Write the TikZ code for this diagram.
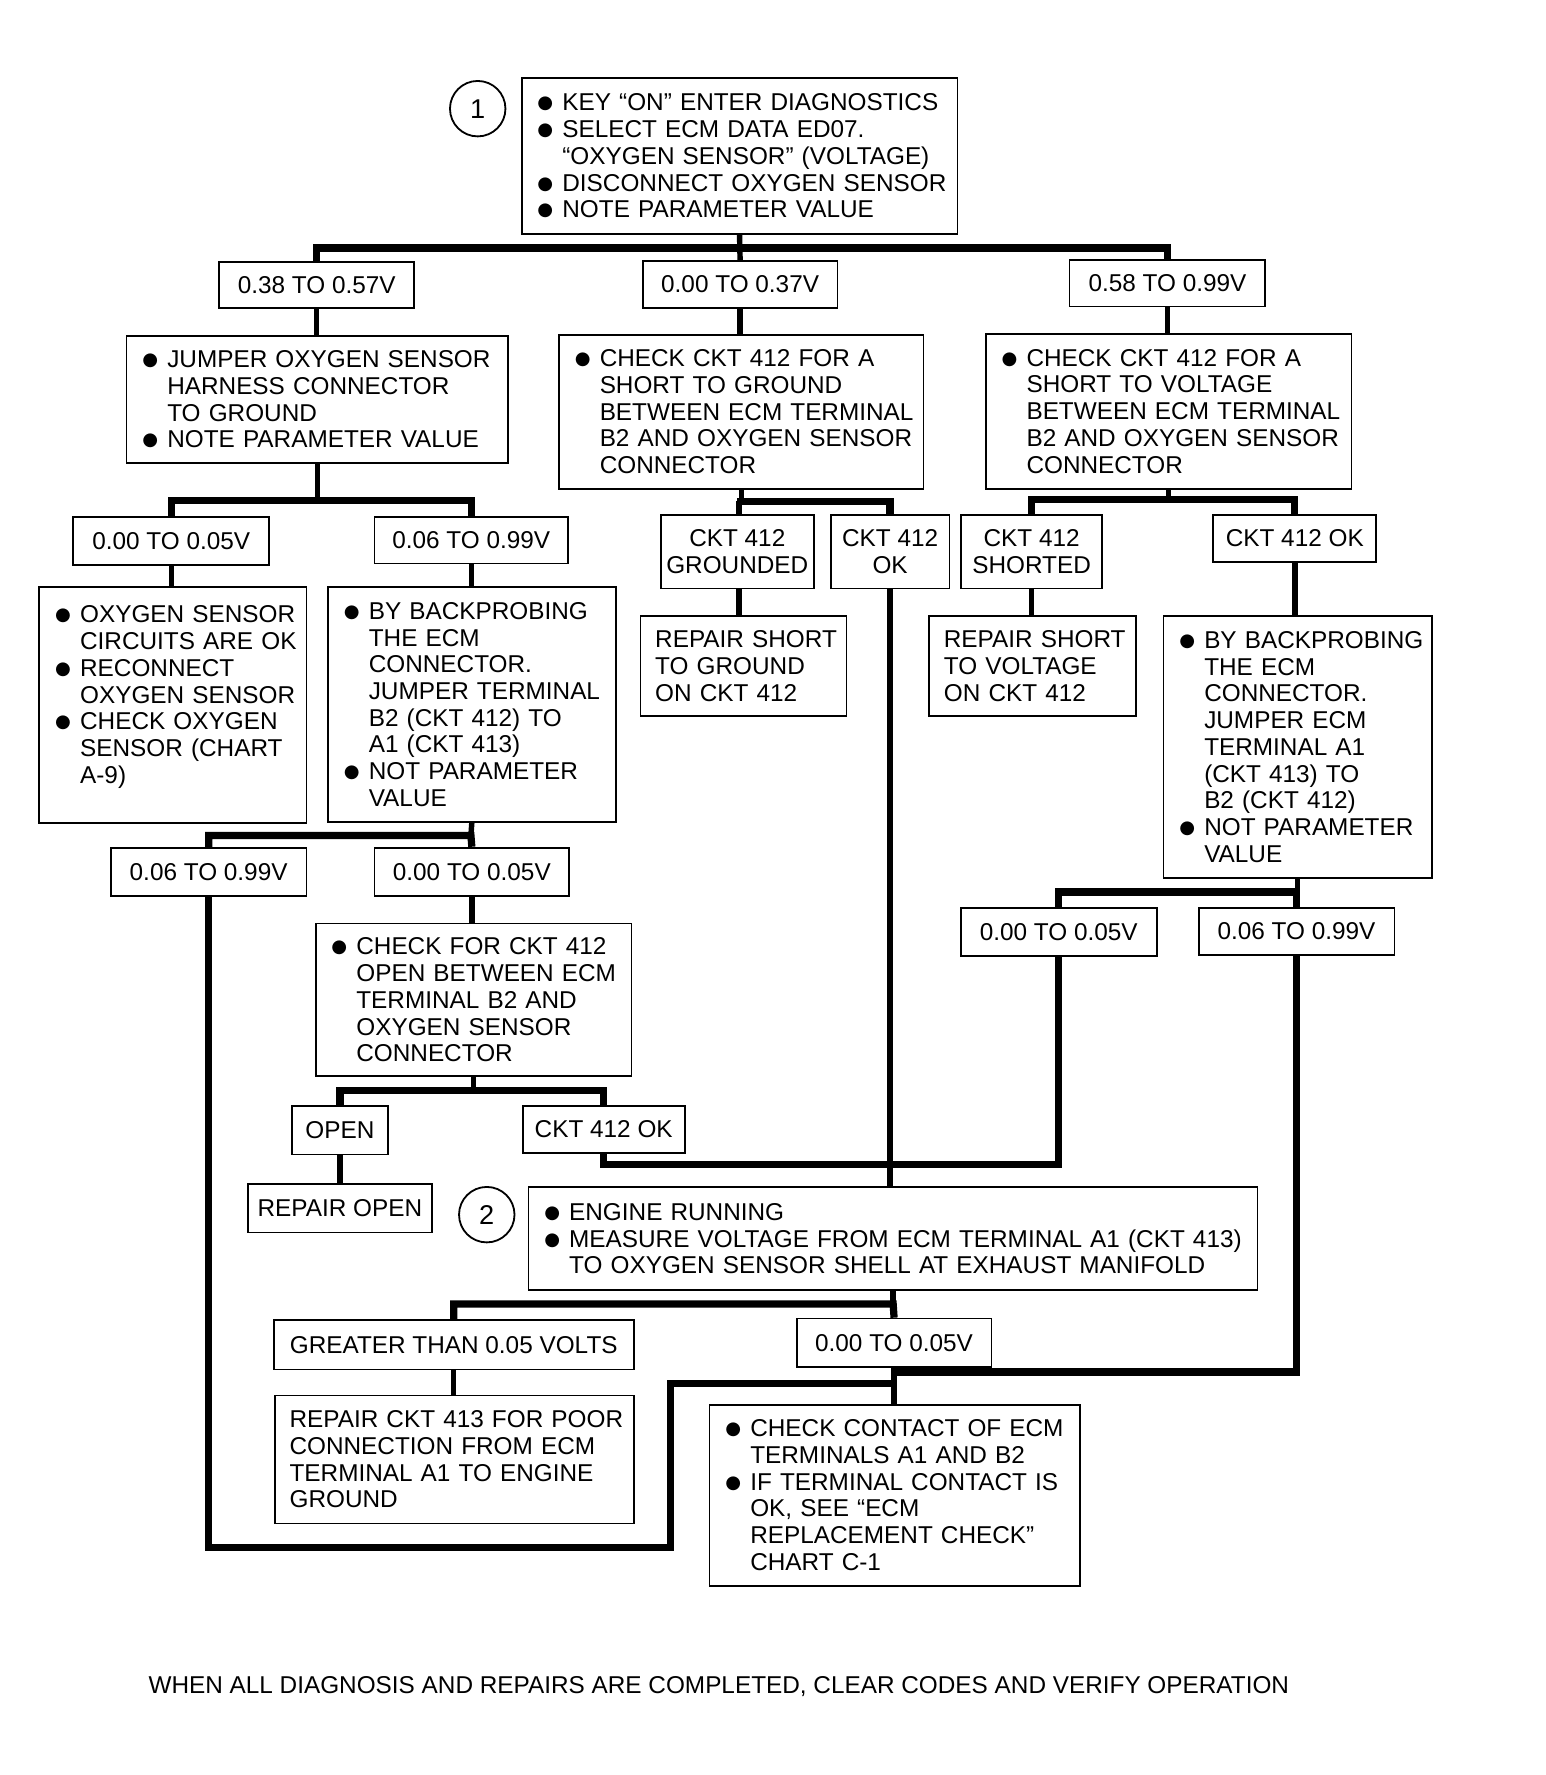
\documentclass[tikz,border=0pt]{standalone}
\usepackage{fontspec}
\setmainfont{Liberation Sans}
\newfontfamily\symfont{DejaVu Sans}

\newcommand{\dotmark}{\raisebox{0.9pt}{\symfont\fontsize{8}{8}\selectfont ●}}
\newcommand{\bul}{\hspace*{7pt}\makebox[11pt][l]{\dotmark}}
\newcommand{\ind}{\hspace*{18pt}}
\newcommand{\pre}{\hspace*{6.5pt}}

\tikzset{
	box/.style={draw, line width=0.8pt, anchor=north west, inner sep=0pt, font=\fontsize{10.75}{11.8}\selectfont},
	valbox/.style={box, align=center},
	listbox/.style={box, align=left},
	num/.style={draw, circle, line width=0.8pt, minimum size=24.5pt, inner sep=0pt, font=\fontsize{12}{12}\selectfont},
	wire/.style={line width=2.4pt},
	bus/.style={line width=3.2pt, line join=miter},
}

\begin{document}
\begin{tikzpicture}[yscale=-1, x=0.5pt, y=0.5pt]

		\useasboundingbox (0, 0) rectangle (1365, 1568);

		% first test
		\node [num]									(c1)	at (422, 96) {1};
		\node [listbox, text width=192.5pt, minimum height=69pt]	(top)	at (460, 68)
			{\bul KEY “ON” ENTER DIAGNOSTICS\\
			 \bul SELECT ECM DATA ED07.\\
			 \ind “OXYGEN SENSOR” (VOLTAGE)\\
			 \bul DISCONNECT OXYGEN SENSOR\\
			 \bul NOTE PARAMETER VALUE};

		\node [valbox, minimum width=86pt, minimum height=20pt]		(v1)	at (193, 231) {0.38 TO 0.57V};
		\node [valbox, minimum width=86pt, minimum height=20.5pt]	(v2)	at (567, 230) {0.00 TO 0.37V};
		\node [valbox, minimum width=86.5pt, minimum height=20.5pt]	(v3)	at (944, 229) {0.58 TO 0.99V};

		\node [listbox, text width=168.5pt, minimum height=56pt]	(jmp)	at (111, 296)
			{\bul JUMPER OXYGEN SENSOR\\
			 \ind HARNESS CONNECTOR\\
			 \ind TO GROUND\\
			 \bul NOTE PARAMETER VALUE};
		\node [listbox, text width=161pt, minimum height=68pt]		(gnd)	at (493, 295)
			{\bul CHECK CKT 412 FOR A\\
			 \ind SHORT TO GROUND\\
			 \ind BETWEEN ECM TERMINAL\\
			 \ind B2 AND OXYGEN SENSOR\\
			 \ind CONNECTOR};
		\node [listbox, text width=161.5pt, minimum height=68.5pt]	(vol)	at (870, 294)
			{\bul CHECK CKT 412 FOR A\\
			 \ind SHORT TO VOLTAGE\\
			 \ind BETWEEN ECM TERMINAL\\
			 \ind B2 AND OXYGEN SENSOR\\
			 \ind CONNECTOR};

		% left branch
		\node [valbox, minimum width=86.5pt, minimum height=21pt]	(a1)	at (64, 456) {0.00 TO 0.05V};
		\node [valbox, minimum width=85.5pt, minimum height=20.5pt]	(a2)	at (330, 456) {0.06 TO 0.99V};
		\node [listbox, text width=118pt, minimum height=104pt, text depth=80pt]	(sok)	at (34, 518)
			{\bul OXYGEN SENSOR\\
			 \ind CIRCUITS ARE OK\\
			 \bul RECONNECT\\
			 \ind OXYGEN SENSOR\\
			 \bul CHECK OXYGEN\\
			 \ind SENSOR (CHART\\
			 \ind A-9)};
		\node [listbox, text width=127pt, minimum height=103.5pt]	(prb)	at (289, 518)
			{\bul BY BACKPROBING\\
			 \ind THE ECM\\
			 \ind CONNECTOR.\\
			 \ind JUMPER TERMINAL\\
			 \ind B2 (CKT 412) TO\\
			 \ind A1 (CKT 413)\\
			 \bul NOT PARAMETER\\
			 \ind VALUE};

		% middle and right branch
		\node [valbox, minimum width=67.5pt, minimum height=32.5pt]	(g1)	at (583, 454) {CKT 412\\GROUNDED};
		\node [valbox, minimum width=52.5pt, minimum height=32.5pt]	(g2)	at (733, 454) {CKT 412\\OK};
		\node [valbox, minimum width=62.5pt, minimum height=32.5pt]	(s1)	at (848, 454) {CKT 412\\SHORTED};
		\node [valbox, minimum width=72pt, minimum height=21pt]		(s2)	at (1071, 454) {CKT 412 OK};
		\node [listbox, text width=91pt, minimum height=44.5pt]		(rg)	at (565, 543)
			{\pre REPAIR SHORT\\
			 \pre TO GROUND\\
			 \pre ON CKT 412};
		\node [listbox, text width=91.5pt, minimum height=44.5pt]	(rv)	at (820, 543)
			{\pre REPAIR SHORT\\
			 \pre TO VOLTAGE\\
			 \pre ON CKT 412};
		\node [listbox, text width=118.5pt, minimum height=116pt]	(prb2)	at (1027, 543)
			{\bul BY BACKPROBING\\
			 \ind THE ECM\\
			 \ind CONNECTOR.\\
			 \ind JUMPER ECM\\
			 \ind TERMINAL A1\\
			 \ind (CKT 413) TO\\
			 \ind B2 (CKT 412)\\
			 \bul NOT PARAMETER\\
			 \ind VALUE};

		\node [valbox, minimum width=86.5pt, minimum height=21.5pt]	(e1)	at (97, 748) {0.06 TO 0.99V};
		\node [valbox, minimum width=86pt, minimum height=21.5pt]	(e2)	at (330, 748) {0.00 TO 0.05V};
		\node [listbox, text width=139.5pt, minimum height=67.5pt]	(opn)	at (278, 815)
			{\bul CHECK FOR CKT 412\\
			 \ind OPEN BETWEEN ECM\\
			 \ind TERMINAL B2 AND\\
			 \ind OXYGEN SENSOR\\
			 \ind CONNECTOR};
		\node [valbox, minimum width=42.5pt, minimum height=21.5pt]	(o1)	at (257, 976) {OPEN};
		\node [valbox, minimum width=71.5pt, minimum height=21pt]	(o2)	at (461, 976) {CKT 412 OK};
		\node [valbox, minimum width=81.5pt, minimum height=21.5pt]	(ro)	at (218, 1045) {REPAIR OPEN};

		\node [valbox, minimum width=86.5pt, minimum height=21.5pt]	(f1)	at (848, 801) {0.00 TO 0.05V};
		\node [valbox, minimum width=86.5pt, minimum height=21pt]	(f2)	at (1058, 801) {0.06 TO 0.99V};

		% second test
		\node [num]									(c2)	at (430, 1073) {2};
		\node [listbox, text width=322pt, minimum height=45.5pt]	(eng)	at (466, 1048)
			{\bul ENGINE RUNNING\\
			 \bul MEASURE VOLTAGE FROM ECM TERMINAL A1 (CKT 413)\\
			 \ind TO OXYGEN SENSOR SHELL AT EXHAUST MANIFOLD};
		\node [valbox, minimum width=159pt, minimum height=22pt]	(m1)	at (241, 1165) {GREATER THAN 0.05 VOLTS};
		\node [valbox, minimum width=86pt, minimum height=21.5pt]	(m2)	at (703, 1164) {0.00 TO 0.05V};
		\node [listbox, text width=158.5pt, minimum height=56.5pt]	(rep)	at (242, 1232)
			{\pre REPAIR CKT 413 FOR POOR\\
			 \pre CONNECTION FROM ECM\\
			 \pre TERMINAL A1 TO ENGINE\\
			 \pre GROUND};
		\node [listbox, text width=163.5pt, minimum height=80pt]	(ecm)	at (626, 1240)
			{\bul CHECK CONTACT OF ECM\\
			 \ind TERMINALS A1 AND B2\\
			 \bul IF TERMINAL CONTACT IS\\
			 \ind OK, SEE “ECM\\
			 \ind REPLACEMENT CHECK”\\
			 \ind CHART C-1};

		\node [font=\fontsize{10.75}{12}\selectfont]	(note)	at (635, 1490)
			{WHEN ALL DIAGNOSIS AND REPAIRS ARE COMPLETED, CLEAR CODES AND VERIFY OPERATION};

		% bus levels
		\coordinate (b0) at (652, 219);
		\coordinate (bA) at (280, 442);
		\coordinate (bB) at (653, 443);
		\coordinate (bC) at (1032, 441);
		\coordinate (bE) at (416, 738);
		\coordinate (bF) at (1143, 788);
		\coordinate (bG) at (416, 963);
		\coordinate (bK) at (788, 1029);
		\coordinate (bM) at (789, 1152);
		\coordinate (bend) at (592, 1367);
		\coordinate (jL) at (789, 1222);
		\coordinate (jR) at (789, 1212);

		% connectors
		\draw [wire]	(top.south) to (v2.north);
		\draw [bus]		(v1.north) |- (b0) -| (v3.north);
		\draw [wire]	(v1.south) to (v1.south |- jmp.north);
		\draw [wire]	(v2.south) to (v2.south |- gnd.north);
		\draw [wire]	(v3.south) to (v3.south |- vol.north);

		\draw [wire]	(jmp.south) to (jmp.south |- bA);
		\draw [bus]		(a1.north) |- (bA) -| (a2.north);
		\draw [wire]	(a1.south) to (a1.south |- sok.north);
		\draw [wire]	(a2.south) to (a2.south |- prb.north);

		\draw [wire]	(gnd.south) to (gnd.south |- bB);
		\draw [bus]		(bB -| g1.north) to (bB) -| (g2.north);
		\draw [wire]	(bB) to (bB |- g1.north);
		\draw [wire]	(bB |- g1.south) to (bB |- rg.north);
		\draw [wire]	(g2.south) to (g2.south |- eng.north);

		\draw [wire]	(vol.south) to (vol.south |- bC);
		\draw [bus]		(s1.north) |- (bC) -| (s2.north);
		\draw [wire]	(s1.south) to (s1.south |- rv.north);
		\draw [wire]	(s2.south) to (s2.south |- prb2.north);

		\draw [wire]	(prb.south) to (bE);
		\draw [bus]		(e1.north) |- (bE) to (e2.north);
		\draw [wire]	(e2.south) to (e2.south |- opn.north);
		\draw [wire]	(opn.south) to (opn.south |- bG);
		\draw [bus]		(o1.north) |- (bG) -| (o2.north);
		\draw [wire]	(o1.south) to (o1.south |- ro.north);
		\draw [bus]		(o2.south) |- (bK) -| (f1.south);

		\draw [wire]	(prb2.south) to (prb2.south |- bF);
		\draw [bus]		(f1.north) |- (bF) -| (f2.north);

		\draw [wire]	(eng.south) to (eng.south |- bM);
		\draw [bus]		(m1.north) |- (bM) to (m2.north);
		\draw [wire]	(m1.south) to (m1.south |- rep.north);
		\draw [wire]	(m2.south) to (m2.south |- ecm.north);

		% return loops
		\draw [bus]		(e1.south) |- (bend) |- (jL);
		\draw [bus]		(f2.south) |- (jR);

	\end{tikzpicture}
\end{document}
